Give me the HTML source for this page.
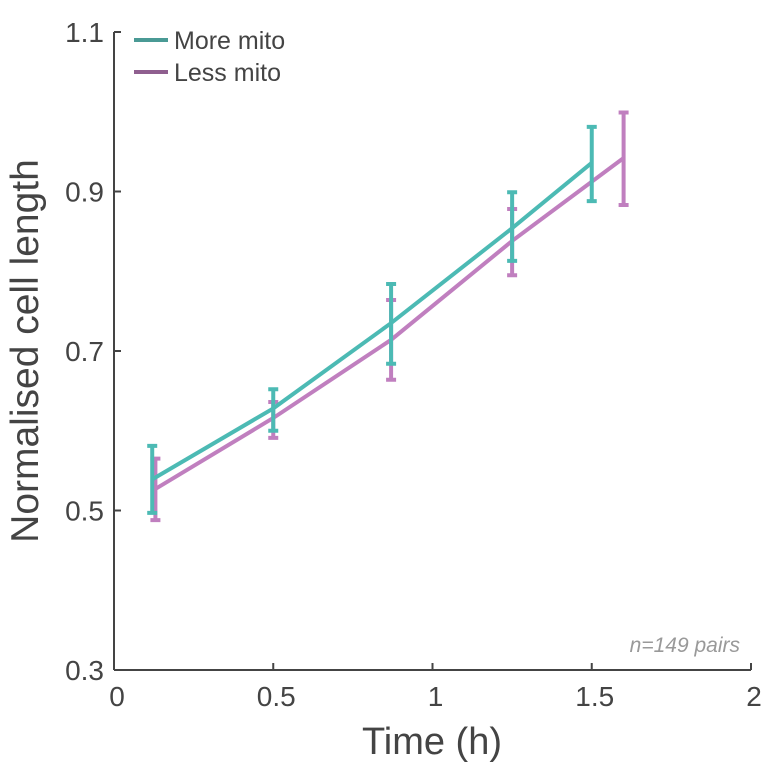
<!DOCTYPE html>
<html><head><meta charset="utf-8"><style>
body{margin:0;background:#fff;}
svg text{font-family:"Liberation Sans",sans-serif;fill:#444;}
</style></head><body>
<svg id="chart" width="784" height="772">
<g id="axes"></g><g id="marks"></g>
<g>
<line x1="134" y1="40" x2="168" y2="40" stroke="#4a9a95" stroke-width="4"/>
<text x="174" y="49" font-size="25">More mito</text>
<line x1="134" y1="72" x2="168" y2="72" stroke="#8f5f8f" stroke-width="4"/>
<text x="174" y="81" font-size="25">Less mito</text>
</g>
<text x="740" y="652" font-size="21" font-style="italic" text-anchor="end" style="fill:#999">n=149 pairs</text>
<text x="432" y="754" font-size="38" text-anchor="middle">Time (h)</text>
<text transform="translate(38,351) rotate(-90)" font-size="39" text-anchor="middle">Normalised cell length</text>
</svg>
<script>
const xTicks=[0,0.5,1,1.5,2];
const xTickLabels=["0","0.5","1","1.5","2"];
const yTicks=[0.3,0.5,0.7,0.9,1.1];
const yTickLabels=["0.3","0.5","0.7","0.9","1.1"];
const moreX=[0.12,0.50,0.87,1.25,1.50];
const moreY=[0.539,0.628,0.735,0.854,0.936];
const moreLo=[0.497,0.600,0.684,0.813,0.888];
const moreHi=[0.581,0.652,0.784,0.899,0.981];
const lessX=[0.13,0.50,0.87,1.25,1.60];
const lessY=[0.527,0.616,0.714,0.838,0.942];
const lessLo=[0.488,0.591,0.664,0.795,0.883];
const lessHi=[0.565,0.636,0.764,0.878,0.999];
const X=v=>114+v*318.5, Y=v=>670-(v-0.3)*797.5;
const NS="http://www.w3.org/2000/svg";
const axes=document.getElementById('axes'), marks=document.getElementById('marks');
function mk(t,a,p){const e=document.createElementNS(NS,t);for(const k in a)e.setAttribute(k,a[k]);p.appendChild(e);return e;}
let e=mk('line',{x1:114,y1:670,x2:751,y2:670,stroke:'#444','stroke-width':2},axes);


e=mk('line',{x1:114,y1:32,x2:114,y2:670,stroke:'#444','stroke-width':2},axes);


xTicks.forEach((v,i)=>{const t=mk('text',{x:X(v)+3,y:706,'font-size':28,'text-anchor':'middle'},axes);t.textContent=xTickLabels[i];


const l=mk('line',{x1:X(v),x2:X(v),y1:670,y2:663,stroke:'#444','stroke-width':2},axes);

});
yTicks.forEach((v,i)=>{const t=mk('text',{x:104,y:Y(v)+10,'font-size':28,'text-anchor':'end'},axes);t.textContent=yTickLabels[i];


const l=mk('line',{x1:114,x2:121,y1:Y(v),y2:Y(v),stroke:'#444','stroke-width':2},axes);

});
function series(xs,ys,lo,hi,col,name){
 const g=mk('g',{},marks);
 
 
 const p=mk('polyline',{points:xs.map((x,i)=>X(x)+','+Y(ys[i])).join(' '),fill:'none',stroke:col,'stroke-width':4},g);
 
 
 xs.forEach((x,i)=>{const cx=X(x);
  const b=mk('path',{d:`M${cx},${Y(lo[i])}V${Y(hi[i])}M${cx-5},${Y(lo[i])}H${cx+5}M${cx-5},${Y(hi[i])}H${cx+5}`,stroke:col,'stroke-width':4,fill:'none'},g);
  
  });
}
series(lessX,lessY,lessLo,lessHi,'#c07fbf','less-mito');
series(moreX,moreY,moreLo,moreHi,'#4cbab4','more-mito');
</script>
</body></html>
